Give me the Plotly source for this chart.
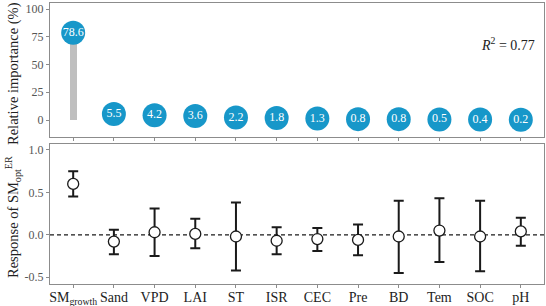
import plotly.graph_objects as go

categories = ["SM<sub>growth</sub>", "Sand", "VPD", "LAI", "ST", "ISR", "CEC", "Pre", "BD", "Tem", "SOC", "pH"]
importance = [78.6, 5.5, 4.2, 3.6, 2.2, 1.8, 1.3, 0.8, 0.8, 0.5, 0.4, 0.2]
response = [0.60, -0.08, 0.03, 0.01, -0.02, -0.07, -0.05, -0.06, -0.02, 0.05, -0.02, 0.04]
upper = [0.75, 0.06, 0.31, 0.19, 0.38, 0.09, 0.08, 0.12, 0.40, 0.43, 0.40, 0.20]
lower = [0.45, -0.23, -0.25, -0.16, -0.42, -0.23, -0.19, -0.24, -0.45, -0.32, -0.43, -0.13]
imp_labels = [f"{v:.1f}" for v in importance]

xs = list(range(len(categories)))
FONT = "Liberation Serif"
BLUE = "#1797c9"
GRAY_AX = "#8c8c8c"

fig = go.Figure()

fig.add_trace(go.Bar(x=xs, y=importance, width=0.17, marker=dict(color="#bfbfbf", line=dict(width=0)),
                     xaxis="x", yaxis="y", showlegend=False))
fig.add_trace(go.Scatter(x=xs, y=importance, mode="markers+text", text=imp_labels,
                         textposition="middle center",
                         textfont=dict(family=FONT, size=12, color="white"),
                         marker=dict(size=24, color=BLUE, line=dict(width=0)),
                         xaxis="x", yaxis="y", showlegend=False, cliponaxis=False))

err_plus = [u - r for u, r in zip(upper, response)]
err_minus = [r - l for r, l in zip(response, lower)]
fig.add_trace(go.Scatter(x=xs, y=response, mode="markers",
                         marker=dict(size=11, color="white", line=dict(color="#1a1a1a", width=1.3)),
                         error_y=dict(type="data", symmetric=False, array=err_plus, arrayminus=err_minus,
                                      color="#1a1a1a", thickness=2, width=5),
                         xaxis="x2", yaxis="y2", showlegend=False))

fig.add_shape(type="line", xref="x2 domain", yref="y2", x0=0, x1=1, y0=0, y1=0,
              line=dict(color="#1a1a1a", width=1.2, dash="4px,3px"), layer="below")

xr = [-0.57, 11.57]
common_ax = dict(showline=True, linecolor=GRAY_AX, linewidth=1.2, mirror=True, showgrid=False,
                 zeroline=False, ticks="outside", ticklen=3, tickcolor=GRAY_AX, automargin=False)

fig.update_layout(
    width=546, height=306,
    margin=dict(l=0, r=0, t=0, b=0),
    paper_bgcolor="white", plot_bgcolor="white",
    font=dict(family=FONT, color="#333333"),
    bargap=0,
    xaxis=dict(domain=[50/546, 544/546], range=xr, anchor="y", showticklabels=False,
               tickvals=xs, **common_ax),
    yaxis=dict(domain=[1-137/306, 1-3/306], range=[-15.3, 105.4], anchor="x",
               tickvals=[0, 25, 50, 75, 100], tickfont=dict(family=FONT, size=12, color="#555555"),
               **common_ax),
    xaxis2=dict(domain=[50/546, 544/546], range=xr, anchor="y2", tickvals=xs, ticktext=categories,
                tickangle=0, ticklabelstandoff=-3,
                tickfont=dict(family=FONT, size=14, color="#222222"), **common_ax),
    yaxis2=dict(domain=[1-284/306, 1-144/306], range=[-0.58, 1.07], anchor="x2",
                tickvals=[-0.5, 0.0, 0.5, 1.0], ticktext=["-0.5", "0.0", "0.5", "1.0"],
                tickfont=dict(family=FONT, size=12, color="#555555"),
                **common_ax),
    annotations=[
        dict(x=0.93, y=0.855, xref="paper", yref="paper", xanchor="center", yanchor="middle",
             text="<i>R</i><sup>2</sup> = 0.77", showarrow=False,
             font=dict(family=FONT, size=14, color="#222222")),
        dict(x=13/546, y=1-74/306, xref="paper", yref="paper", xanchor="center", yanchor="middle",
             text="Relative importance (%)", textangle=-90, showarrow=False,
             font=dict(family=FONT, size=14.5, color="#222222")),
        dict(x=13/546, y=1-217/306, xref="paper", yref="paper", xanchor="center", yanchor="middle",
             text="Response of SM<sub>opt</sub><sup>ER</sup>", textangle=-90, showarrow=False,
             font=dict(family=FONT, size=14.5, color="#222222")),
    ],
)

fig.write_html("out.html")
